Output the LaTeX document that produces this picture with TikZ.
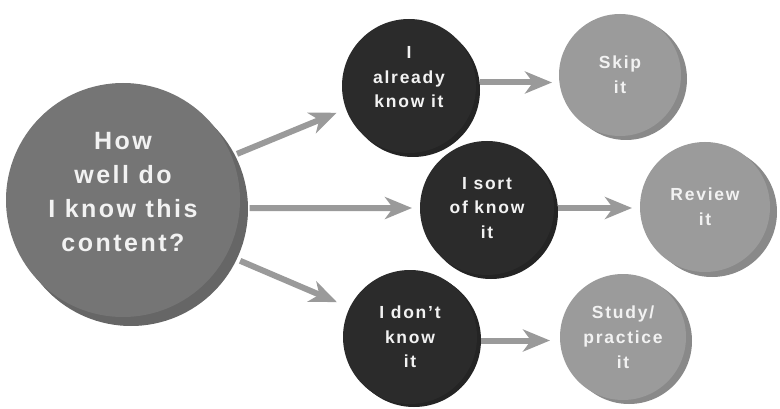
\documentclass[tikz,border=0pt]{standalone}
\usepackage{fontspec}
\setmainfont{Liberation Sans}
\newfontfamily\lblfont[LetterSpace=10]{Liberation Sans}
\usetikzlibrary{arrows.meta}
\definecolor{bigfill}{HTML}{757575}
\definecolor{bigshade}{HTML}{666666}
\definecolor{darkfill}{HTML}{2B2B2B}
\definecolor{darkshade}{HTML}{242424}
\definecolor{lightfill}{HTML}{9B9B9B}
\definecolor{lightshade}{HTML}{898989}
\definecolor{arrowgrey}{HTML}{9A9A9A}
\definecolor{txt}{HTML}{F2F2F2}
\newcommand{\upby}[2]{\raisebox{0pt}[\height][\dimexpr\depth+#1\relax]{\begin{tabular}{@{}c@{}}#2\end{tabular}}}
\tikzset{
  blob/.style={circle, inner sep=0pt, outer sep=0pt, align=center, text=txt},
  bigblob/.style={blob, fill=bigfill, minimum size=234pt, font=\lblfont\bfseries\fontsize{25}{34}\selectfont},
  darkblob/.style={blob, fill=darkfill, minimum size=134pt, font=\lblfont\bfseries\fontsize{17.5}{24.5}\selectfont},
  lightblob/.style={blob, fill=lightfill, font=\lblfont\bfseries\fontsize{17.5}{25}\selectfont},
  arr/.style={draw=arrowgrey, line width=6pt, -{Stealth[length=27pt, width=22pt, inset=8pt]}},
}
\begin{document}
\begin{tikzpicture}[x=1pt, y=-1pt]
\useasboundingbox (0,0) rectangle (780,409);
% shadows
\fill[bigshade] (131,209) circle (117pt);
\fill[darkshade] (413,90) circle (67pt);
\fill[darkshade] (491,212) circle (67pt);
\fill[darkshade] (414,340) circle (67pt);
\fill[lightshade] (626,79) circle (61pt);
\fill[lightshade] (712,212) circle (65pt);
\fill[lightshade] (629,341) circle (63pt);
% blobs
\node[bigblob] (c0) at (123,200) {\upby{12pt}{How\\well do\\I know this\\content?}};
\node[darkblob] (k1) at (409,86) {\upby{15pt}{I\\already\\know it}};
\node[darkblob] (k2) at (487,208) {I sort\\of know\\it};
\node[darkblob] (k3) at (410,337) {I don’t\\know\\it};
\node[lightblob, minimum size=122pt] (r1) at (620,75) {Skip\\it};
\node[lightblob, minimum size=130pt] (r2) at (705,207) {Review\\it};
\node[lightblob, minimum size=126pt] (r3) at (623,337) {Study/\\practice\\it};
% arrows
\draw[arr, shorten <=6pt, shorten >=10pt] (c0.22) -- (k1.200);
\draw[arr, shorten <=10pt, shorten >=8pt] (c0.-4) -- (k2.west);
\draw[arr, shorten <=15pt, shorten >=14pt] (c0.-28) -- (k3.154);
\draw[arr, shorten <=4pt, shorten >=7pt] (k1.3) -- (k1.3 -| r1.west);
\draw[arr, shorten <=4pt, shorten >=8pt] (k2.east) -- (k2.east -| r2.west);
\draw[arr, shorten <=4pt, shorten >=10pt] (k3.-3) -- (k3.-3 -| r3.west);
\end{tikzpicture}
\end{document}
